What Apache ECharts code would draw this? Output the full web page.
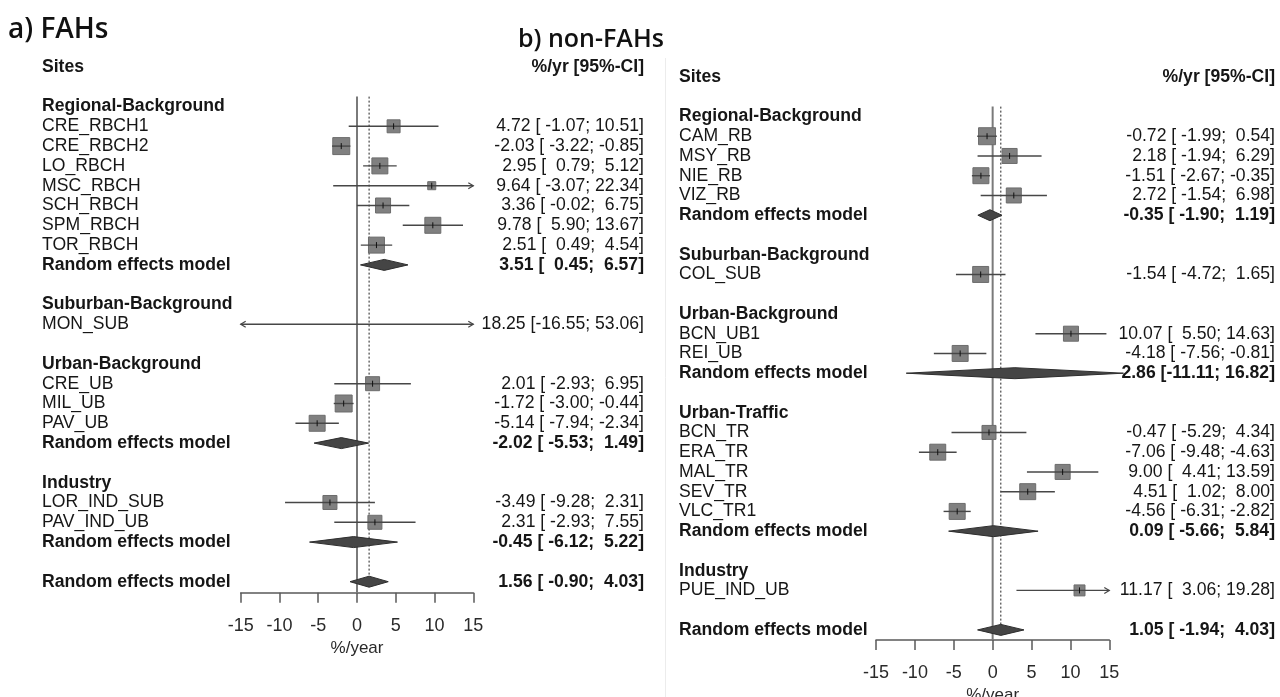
<!DOCTYPE html>
<html>
<head>
<meta charset="utf-8">
<script src="https://cdn.jsdelivr.net/npm/echarts@6/dist/echarts.min.js"></script>
<style>
  html, body { margin: 0; padding: 0; background: #ffffff; }
  #chart { width: 1280px; height: 697px; }
</style>
</head>
<body>
<div id="chart"></div>
<script>
// ---------- a) FAHs ----------
const fahGroups = ['Regional-Background', 'Suburban-Background', 'Urban-Background', 'Industry'];
const fahSites = ['CRE_RBCH1', 'CRE_RBCH2', 'LO_RBCH', 'MSC_RBCH', 'SCH_RBCH', 'SPM_RBCH', 'TOR_RBCH',
                  'MON_SUB', 'CRE_UB', 'MIL_UB', 'PAV_UB', 'LOR_IND_SUB', 'PAV_IND_UB'];
const fahSiteGroup = [0, 0, 0, 0, 0, 0, 0, 1, 2, 2, 2, 3, 3];
const fahEst   = [4.72, -2.03, 2.95, 9.64, 3.36, 9.78, 2.51, 18.25, 2.01, -1.72, -5.14, -3.49, 2.31];
const fahLower = [-1.07, -3.22, 0.79, -3.07, -0.02, 5.90, 0.49, -16.55, -2.93, -3.00, -7.94, -9.28, -2.93];
const fahUpper = [10.51, -0.85, 5.12, 22.34, 6.75, 13.67, 4.54, 53.06, 6.95, -0.44, -2.34, 2.31, 7.55];
const fahWeight = [9.1, 15.6, 13.8, 3.5, 12.2, 13.8, 13.8, 0.4, 10.6, 15.6, 13.8, 10.6, 10.6];
const fahGroupEst   = [3.51, null, -2.02, -0.45];
const fahGroupLower = [0.45, null, -5.53, -6.12];
const fahGroupUpper = [6.57, null, 1.49, 5.22];
const fahOverall = [1.56, -0.90, 4.03];

// ---------- b) non-FAHs ----------
const nonGroups = ['Regional-Background', 'Suburban-Background', 'Urban-Background', 'Urban-Traffic', 'Industry'];
const nonSites = ['CAM_RB', 'MSY_RB', 'NIE_RB', 'VIZ_RB', 'COL_SUB', 'BCN_UB1', 'REI_UB',
                  'BCN_TR', 'ERA_TR', 'MAL_TR', 'SEV_TR', 'VLC_TR1', 'PUE_IND_UB'];
const nonSiteGroup = [0, 0, 0, 0, 1, 2, 2, 3, 3, 3, 3, 3, 4];
const nonEst   = [-0.72, 2.18, -1.51, 2.72, -1.54, 10.07, -4.18, -0.47, -7.06, 9.00, 4.51, -4.56, 11.17];
const nonLower = [-1.99, -1.94, -2.67, -1.54, -4.72, 5.50, -7.56, -5.29, -9.48, 4.41, 1.02, -6.31, 3.06];
const nonUpper = [0.54, 6.29, -0.35, 6.98, 1.65, 14.63, -0.81, 4.34, -4.63, 13.59, 8.00, -2.82, 19.28];
const nonWeight = [15.6, 12.2, 13.8, 12.2, 13.8, 12.2, 13.8, 10.6, 13.8, 12.2, 13.8, 13.8, 6.5];
const nonGroupEst   = [-0.35, null, 2.86, 0.09, null];
const nonGroupLower = [-1.90, null, -11.11, -5.66, null];
const nonGroupUpper = [1.19, null, 16.82, 5.84, null];
const nonOverall = [1.05, -1.94, 4.03];

const xTicks = [-15, -10, -5, 0, 5, 10, 15];

const FONT = '"Liberation Sans", Arial, Helvetica, sans-serif';
const FS = 17.6;
const TEXT = '#161616';
const BOX_K = 4.3;          // box side = BOX_K * sqrt(weight)
const DIAMOND_HALF = 5.5;   // half height of pooled-estimate diamonds, px

// Build the row layout of one forest: header, studies, pooled row, blank
function buildRows(p) {
  const rows = [];
  let r = 0;
  p.groups.forEach((g, gi) => {
    rows.push({ type: 'header', row: r++, text: g });
    p.sites.forEach((s, i) => {
      if (p.siteGroup[i] === gi) {
        rows.push({ type: 'site', row: r++, text: s, est: p.est[i], lo: p.lower[i], hi: p.upper[i], w: p.weight[i] });
      }
    });
    if (p.groupEst[gi] != null) {
      rows.push({ type: 'pooled', row: r++, text: 'Random effects model',
                  est: p.groupEst[gi], lo: p.groupLower[gi], hi: p.groupUpper[gi] });
    }
    r++;
  });
  rows.push({ type: 'pooled', row: r, text: 'Random effects model', overall: true,
              est: p.overall[0], lo: p.overall[1], hi: p.overall[2] });
  // formatted "est [lo; hi]" strings, padded per column
  const withVals = rows.filter(d => d.est != null);
  const w = k => Math.max(...withVals.map(d => d[k].toFixed(2).length));
  const we = w('est'), wl = w('lo'), wh = w('hi');
  const pad = (v, n) => v.toFixed(2).padStart(n, ' ');
  withVals.forEach(d => { d.value = pad(d.est, we) + ' [' + pad(d.lo, wl) + '; ' + pad(d.hi, wh) + ']'; });
  return { rows, last: r };
}

const panels = [
  {
    data: buildRows({ groups: fahGroups, sites: fahSites, siteGroup: fahSiteGroup, est: fahEst, lower: fahLower,
                      upper: fahUpper, weight: fahWeight, groupEst: fahGroupEst, groupLower: fahGroupLower,
                      groupUpper: fahGroupUpper, overall: fahOverall }),
    overall: fahOverall[0],
    grid: { left: 240.7, top: 96.6, width: 232.6, height: 496.1, outerBoundsMode: 'none' },
    yMax: 24.556,
    labelX: 42, valueX: 644
  },
  {
    data: buildRows({ groups: nonGroups, sites: nonSites, siteGroup: nonSiteGroup, est: nonEst, lower: nonLower,
                      upper: nonUpper, weight: nonWeight, groupEst: nonGroupEst, groupLower: nonGroupLower,
                      groupUpper: nonGroupUpper, overall: nonOverall }),
    overall: nonOverall[0],
    grid: { left: 876, top: 106.6, width: 233.3, height: 533.3, outerBoundsMode: 'none' },
    yMax: 26.506,
    labelX: 679, valueX: 1275
  }
];

const X_MIN = xTicks[0], X_MAX = xTicks[xTicks.length - 1];

function marksRenderer(rows) {
  return function (params, api) {
    const d = rows[params.dataIndex];
    const kids = [];
    if (d.type === 'site') {
      const a = api.coord([Math.max(d.lo, X_MIN), d.row]);
      const b = api.coord([Math.min(d.hi, X_MAX), d.row]);
      const y = a[1];
      const inRange = d.est >= X_MIN && d.est <= X_MAX;
      if (inRange) {
        const c = api.coord([d.est, d.row]);
        const s = BOX_K * Math.sqrt(d.w);
        kids.push({ type: 'rect', shape: { x: c[0] - s / 2, y: c[1] - s / 2, width: s, height: s },
                    style: { fill: '#808080', stroke: '#6c6c6c', lineWidth: 1 } });
      }
      kids.push({ type: 'line', shape: { x1: a[0], y1: y, x2: b[0], y2: y },
                  style: { stroke: '#474747', lineWidth: 1.4 } });
      if (inRange) {
        const c = api.coord([d.est, d.row]);
        kids.push({ type: 'line', shape: { x1: c[0], y1: y - 3, x2: c[0], y2: y + 3 },
                    style: { stroke: '#111', lineWidth: 1 } });
      }
      if (d.lo < X_MIN) {
        kids.push({ type: 'polyline', shape: { points: [[a[0] + 5, y - 3], [a[0], y], [a[0] + 5, y + 3]] },
                    style: { stroke: '#474747', lineWidth: 1.2, fill: null } });
      }
      if (d.hi > X_MAX) {
        kids.push({ type: 'polyline', shape: { points: [[b[0] - 5, y - 3], [b[0], y], [b[0] - 5, y + 3]] },
                    style: { stroke: '#474747', lineWidth: 1.2, fill: null } });
      }
    } else if (d.type === 'pooled') {
      const l = api.coord([d.lo, d.row]), m = api.coord([d.est, d.row]), r = api.coord([d.hi, d.row]);
      kids.push({ type: 'polygon',
                  shape: { points: [[l[0], l[1]], [m[0], m[1] - DIAMOND_HALF], [r[0], r[1]], [m[0], m[1] + DIAMOND_HALF]] },
                  style: { fill: '#454545', stroke: '#2e2e2e', lineWidth: 1 } });
    }
    return { type: 'group', children: kids };
  };
}

function textRenderer(rows, panel) {
  return function (params, api) {
    const d = rows[params.dataIndex];
    const y = api.coord([0, d.row])[1];
    const bold = d.type !== 'site';
    const kids = [{
      type: 'text',
      style: { x: panel.labelX, y: y, text: d.text, fill: TEXT, fontFamily: FONT, fontSize: FS,
               fontWeight: bold ? 'bold' : 'normal', textAlign: 'left', textVerticalAlign: 'middle' }
    }];
    if (d.value) {
      kids.push({
        type: 'text',
        style: { x: panel.valueX, y: y, text: d.value, fill: TEXT, fontFamily: FONT, fontSize: FS,
                 fontWeight: bold ? 'bold' : 'normal', textAlign: 'right', textVerticalAlign: 'middle' }
      });
    }
    if (d.colHead) {
      kids.push({
        type: 'text',
        style: { x: panel.valueX, y: y, text: d.colHead, fill: TEXT, fontFamily: FONT, fontSize: FS,
                 fontWeight: 'bold', textAlign: 'right', textVerticalAlign: 'middle' }
      });
    }
    return { type: 'group', children: kids };
  };
}

function refRenderer(panel) {
  const last = panel.data.last;
  return function (params, api) {
    const x = api.value(0);
    const top = api.coord([x, -0.5]);
    if (params.dataIndex === 0) {
      const bot = api.coord([x, panel.yMax]);
      return { type: 'line', shape: { x1: top[0], y1: top[1], x2: bot[0], y2: bot[1] },
               style: { stroke: '#7a7a7a', lineWidth: 2 } };
    }
    const bot = api.coord([x, last]);
    return { type: 'line', shape: { x1: top[0], y1: top[1], x2: bot[0], y2: bot[1] - DIAMOND_HALF },
             style: { stroke: '#222', lineWidth: 1, lineDash: [2, 2] } };
  };
}

const grids = [], xAxes = [], yAxes = [], series = [];
panels.forEach((p, i) => {
  grids.push(p.grid);
  xAxes.push({
    gridIndex: i, type: 'value', min: X_MIN, max: X_MAX, interval: 5,
    splitLine: { show: false },
    axisLine: { show: true, onZero: false, lineStyle: { color: '#5a5a5a', width: 1.5 } },
    axisTick: { show: true, length: 10, lineStyle: { color: '#5a5a5a', width: 1.5 } },
    axisLabel: { fontFamily: FONT, fontSize: 18, color: '#2a2a2a', margin: 24,
                 customValues: xTicks },
    name: '%/year', nameLocation: 'middle', nameGap: 44,
    nameTextStyle: { fontFamily: FONT, fontSize: 17, color: '#2a2a2a' }
  });
  yAxes.push({ gridIndex: i, type: 'value', inverse: true, min: -0.5, max: p.yMax, show: false });

  const textRows = p.data.rows.concat([{ type: 'head', row: -2, text: 'Sites', colHead: '%/yr [95%-CI]' }]);
  series.push({
    type: 'custom', xAxisIndex: i, yAxisIndex: i, clip: false, silent: true,
    data: [[0, -0.5], [p.overall, -0.5]],
    renderItem: refRenderer(p), z: 1
  });
  series.push({
    type: 'custom', xAxisIndex: i, yAxisIndex: i, clip: false, silent: true,
    data: p.data.rows.map(d => [d.est != null ? d.est : 0, d.row]),
    renderItem: marksRenderer(p.data.rows), z: 2
  });
  series.push({
    type: 'custom', xAxisIndex: i, yAxisIndex: i, clip: false, silent: true,
    data: textRows.map(d => [0, d.row]),
    renderItem: textRenderer(textRows, p), z: 3
  });
});

const chart = echarts.init(document.getElementById('chart'), null, { renderer: 'canvas' });
chart.setOption({
  backgroundColor: '#ffffff',
  animation: false,
  grid: grids,
  xAxis: xAxes,
  yAxis: yAxes,
  series: series,
  graphic: [
    { type: 'text', left: 8, top: 16,
      style: { text: 'a) FAHs', fontFamily: '"Open Sans", sans-serif', fontWeight: 600, fontSize: 28, fill: '#111' } },
    { type: 'text', left: 518, top: 27,
      style: { text: 'b) non-FAHs', fontFamily: '"Open Sans", sans-serif', fontWeight: 600, fontSize: 25, fill: '#111' } },
    { type: 'line', shape: { x1: 665.5, y1: 58, x2: 665.5, y2: 697 },
      style: { stroke: '#ececec', lineWidth: 1 }, silent: true }
  ]
});
</script>
</body>
</html>
